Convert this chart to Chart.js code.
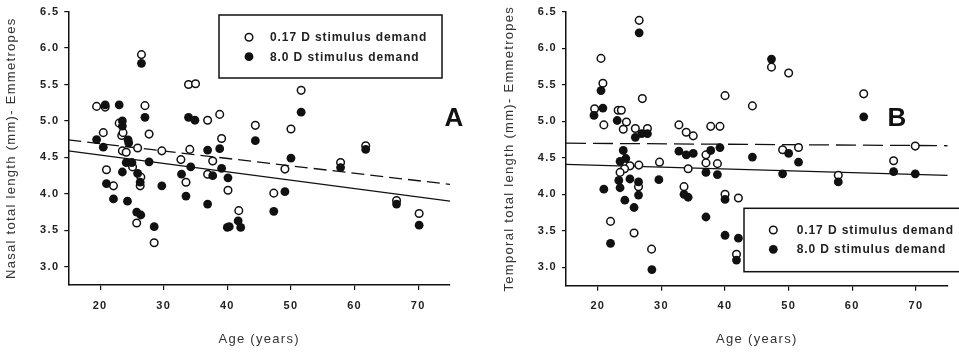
<!DOCTYPE html>
<html><head><meta charset="utf-8">
<script src="https://cdn.jsdelivr.net/npm/chart.js@4"></script>
<style>
html,body{margin:0;padding:0;background:#fff;width:959px;height:354px;overflow:hidden}
#a{position:absolute;left:0;top:0}
#b{position:absolute;left:480px;top:0}
</style></head><body>
<canvas id="a" width="480" height="354"></canvas>
<canvas id="b" width="479" height="354"></canvas>
<script>
// ---- data ----
const ageTicks = [20, 30, 40, 50, 60, 70];
const lengthTicks = [3.0, 3.5, 4.0, 4.5, 5.0, 5.5, 6.0, 6.5];
const seriesLabels = ['0.17 D stimulus demand', '8.0 D stimulus demand'];
const xTitle = 'Age (years)';
const yTitleA = 'Nasal total length (mm)- Emmetropes';
const yTitleB = 'Temporal total length (mm)- Emmetropes';

// Panel A (nasal): [age, length]
const nasalOpen = [[19.45,5.20],[20.8,5.19],[20.5,4.84],[21.0,4.33],[22.1,4.11],[23.0,4.97],[23.4,4.80],[23.6,4.84],[23.5,4.59],[24.1,4.57],[25.1,4.37],[25.9,4.63],[25.75,3.60],[26.4,4.23],[26.3,4.11],[26.5,5.91],[27.05,5.21],[27.7,4.82],[28.5,3.33],[29.7,4.59],[32.7,4.47],[33.5,4.16],[33.9,5.50],[35.0,5.51],[34.1,4.61],[36.9,5.01],[36.9,4.27],[37.7,4.45],[38.8,5.09],[39.1,4.76],[40.1,4.05],[41.8,3.77],[44.4,4.94],[47.3,4.01],[49.05,4.34],[50.0,4.89],[51.6,5.42],[57.8,4.43],[61.75,4.66],[66.6,3.91],[70.15,3.73]];
const nasalFilled = [[19.45,4.745],[20.8,5.22],[20.5,4.64],[21.0,4.14],[22.1,3.93],[23.0,5.22],[23.5,5.00],[23.5,4.93],[23.5,4.30],[24.1,4.43],[24.4,4.74],[24.5,4.70],[24.3,3.90],[25.0,4.43],[25.9,4.28],[25.75,3.75],[26.4,3.71],[26.3,4.16],[26.5,5.79],[27.05,5.05],[27.7,4.44],[28.5,3.55],[29.7,4.11],[32.8,4.27],[33.5,3.97],[33.9,5.05],[34.9,5.01],[34.25,4.37],[36.9,4.60],[36.9,3.86],[37.7,4.25],[38.8,4.62],[39.1,4.35],[40.1,4.22],[40.0,3.54],[40.3,3.55],[41.7,3.63],[42.1,3.54],[44.4,4.73],[47.3,3.76],[49.05,4.03],[50.0,4.49],[51.6,5.12],[57.8,4.36],[61.75,4.61],[66.6,3.86],[70.15,3.57]];
const nasalFitOpen = [[15,4.74],[75,4.13]];
const nasalFitFilled = [[15,4.59],[75,3.90]];

// Panel B (temporal): [age, length]
const temporalOpen = [[26.5,6.38],[20.5,5.86],[20.8,5.52],[19.5,5.17],[20.95,4.95],[27.0,5.31],[23.2,5.15],[23.7,5.15],[24.5,4.99],[24.0,4.89],[25.9,4.90],[27.8,4.90],[32.75,4.95],[33.9,4.85],[35.0,4.80],[37.75,4.93],[39.2,4.93],[40.0,5.35],[44.3,5.21],[47.3,5.74],[50.0,5.66],[61.8,5.375],[37.0,4.54],[37.0,4.43],[38.8,4.42],[34.2,4.35],[29.7,4.44],[25.05,4.39],[26.45,4.40],[24.2,4.35],[23.5,4.30],[26.4,4.105],[22.0,3.63],[25.7,3.47],[28.45,3.25],[33.55,4.105],[40.0,4.00],[42.1,3.95],[41.8,3.18],[49.05,4.61],[51.55,4.64],[57.8,4.26],[66.5,4.46],[69.9,4.66]];
const temporalFilled = [[26.5,6.21],[20.5,5.42],[20.8,5.18],[19.4,5.08],[23.05,5.01],[25.9,4.78],[26.9,4.83],[27.8,4.83],[32.75,4.59],[33.9,4.54],[35.0,4.56],[37.75,4.60],[39.2,4.64],[44.3,4.51],[47.3,5.85],[61.8,5.06],[24.0,4.60],[23.5,4.45],[24.4,4.49],[23.3,4.19],[25.05,4.21],[26.4,4.17],[20.95,4.07],[23.5,4.09],[26.4,3.99],[24.25,3.92],[25.7,3.82],[22.0,3.33],[28.5,2.97],[29.6,4.20],[33.55,4.00],[34.2,3.96],[37.0,4.30],[38.8,4.27],[37.0,3.69],[40.0,3.93],[40.0,3.44],[42.1,3.40],[41.8,3.10],[49.05,4.28],[50.0,4.56],[51.55,4.44],[57.8,4.17],[66.5,4.31],[69.9,4.28]];
const temporalFitOpen = [[15,4.70],[75,4.665]];
const temporalFitFilled = [[15,4.41],[75,4.26]];

// ---- styling / drawing ----
const FONT = '"Liberation Sans", Arial, Helvetica, sans-serif';
const INK = '#111';
const TXT = '#222';
const OPEN_R = 3.8, OPEN_BW = 1.5, FILL_R = 4.4;

const spacingPlugin = {
  id: 'spacing',
  beforeLayout(c) { c.ctx.letterSpacing = '1.3px'; },
  beforeDraw(c) { c.ctx.letterSpacing = '1.3px'; }
};

function decorPlugin(cfg) {
  return {
    id: 'decor',
    afterDraw(c) {
      const ctx = c.ctx;
      ctx.save();
      ctx.lineWidth = 1.5;
      ctx.strokeStyle = INK;
      ctx.strokeRect(cfg.box[0], cfg.box[1], cfg.box[2], cfg.box[3]);
      const [mx, my1, my2, tx] = cfg.items;
      ctx.beginPath(); ctx.arc(mx, my1, OPEN_R, 0, Math.PI * 2);
      ctx.fillStyle = '#fff'; ctx.fill(); ctx.lineWidth = OPEN_BW; ctx.strokeStyle = INK; ctx.stroke();
      ctx.beginPath(); ctx.arc(mx, my2, FILL_R, 0, Math.PI * 2);
      ctx.fillStyle = INK; ctx.fill();
      ctx.letterSpacing = '0.9px';
      ctx.fillStyle = TXT;
      ctx.font = 'bold 12px ' + FONT;
      ctx.textAlign = 'left';
      ctx.textBaseline = 'middle';
      ctx.fillText(seriesLabels[0], tx, my1 + 0.5);
      ctx.fillText(seriesLabels[1], tx, my2 + 0.5);
      ctx.letterSpacing = '0px';
      ctx.font = 'bold 26px ' + FONT;
      ctx.textAlign = 'center';
      ctx.textBaseline = 'alphabetic';
      ctx.fillStyle = INK;
      ctx.fillText(cfg.letter, cfg.letterPos[0], cfg.letterPos[1]);
      ctx.restore();
    }
  };
}

const pts = a => a.map(p => ({x: p[0], y: p[1]}));

function makeChart(id, open, filled, fitOpen, fitFilled, yTitle, cfg) {
  return new Chart(document.getElementById(id), {
    type: 'scatter',
    data: {
      datasets: [
        {label: seriesLabels[0], data: pts(open), backgroundColor: '#fff', borderColor: INK, borderWidth: OPEN_BW, pointRadius: OPEN_R, order: 2},
        {label: seriesLabels[1], data: pts(filled), backgroundColor: INK, borderColor: INK, borderWidth: 0, pointRadius: FILL_R, order: 1},
        {type: 'line', data: pts(fitOpen), borderColor: INK, borderWidth: 1.3, borderDash: cfg.dash, pointRadius: 0, fill: false, order: 3},
        {type: 'line', data: pts(fitFilled), borderColor: INK, borderWidth: 1.3, pointRadius: 0, fill: false, order: 3}
      ]
    },
    options: {
      responsive: false,
      animation: false,
      events: [],
      layout: {padding: {top: 11, right: cfg.right, left: 0, bottom: 0}},
      plugins: {legend: {display: false}, tooltip: {enabled: false}},
      scales: {
        x: {
          type: 'linear', min: 15, max: 75,
          afterBuildTicks: s => { s.ticks = ageTicks.map(v => ({value: v})); },
          afterFit: s => { s.height = cfg.xh; },
          border: {display: true, color: INK, width: 1.5},
          grid: {display: true, drawOnChartArea: false, drawTicks: true, tickLength: 5, color: INK, lineWidth: 1.2},
          ticks: {color: TXT, font: {family: FONT, size: 11, weight: 'bold'}, padding: 9, maxRotation: 0, autoSkip: false},
          title: {display: true, text: xTitle, color: '#333', font: {family: FONT, size: 13}, padding: {top: 0, bottom: 7}}
        },
        y: {
          type: 'linear', min: 2.75, max: 6.5,
          afterBuildTicks: s => { s.ticks = lengthTicks.map(v => ({value: v})); },
          afterFit: s => { s.width = cfg.yw; },
          border: {display: true, color: INK, width: 1.5},
          grid: {display: true, drawOnChartArea: false, drawTicks: true, tickLength: 4, color: INK, lineWidth: 1.2},
          ticks: {color: TXT, font: {family: FONT, size: 11, weight: 'bold'}, padding: 5, autoSkip: false, callback: v => Number(v).toFixed(1)},
          title: {display: true, text: yTitle, color: '#333', font: {family: FONT, size: 13}, padding: {top: cfg.ytp, bottom: 0}}
        }
      }
    },
    plugins: [spacingPlugin, decorPlugin(cfg)]
  });
}

makeChart('a', nasalOpen, nasalFilled, nasalFitOpen, nasalFitFilled, yTitleA, {
  dash: [13, 6], right: 30, xh: 69, yw: 68.3, ytp: 4,
  box: [219, 15, 223, 63], items: [249, 37.3, 56.7, 270],
  letter: 'A', letterPos: [454, 126]
});
makeChart('b', temporalOpen, temporalFilled, temporalFitOpen, temporalFitFilled, yTitleB, {
  dash: [20, 7], right: 11.3, xh: 68.3, yw: 86, ytp: 22,
  box: [264, 208.3, 230, 63.4], items: [293.3, 230, 249.3, 316.7],
  letter: 'B', letterPos: [417, 126]
});
</script>
</body></html>
